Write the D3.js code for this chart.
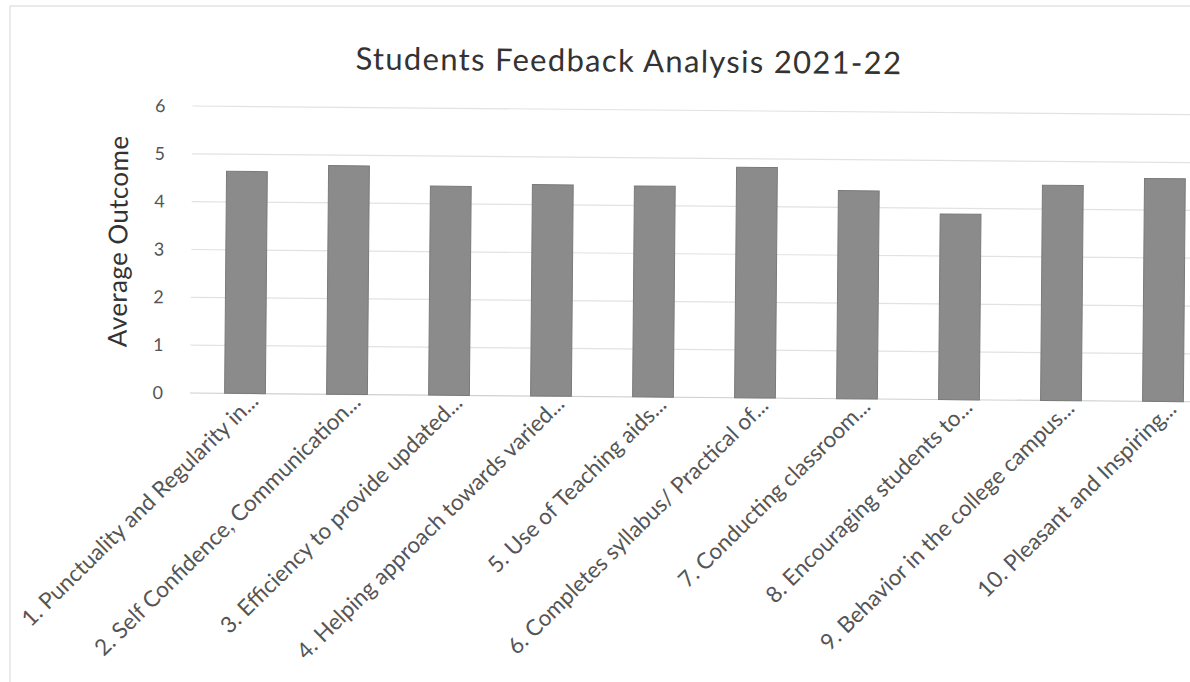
<!DOCTYPE html>
<html>
<head>
<meta charset="utf-8">
<script src="https://cdn.jsdelivr.net/npm/d3@7"></script>
<style>
  html, body { margin: 0; padding: 0; background: #fff; }
  svg { display: block; }
  text { font-family: Lato, "Liberation Sans", sans-serif; }
</style>
</head>
<body>
<svg id="chart" width="1190" height="682"></svg>
<script>
const categories = [
  "1. Punctuality and Regularity in...",
  "2. Self Confidence, Communication...",
  "3. Efficiency to provide updated...",
  "4. Helping approach towards varied...",
  "5. Use of Teaching aids...",
  "6. Completes syllabus/ Practical of...",
  "7. Conducting classroom...",
  "8. Encouraging students to...",
  "9. Behavior in the college campus...",
  "10. Pleasant and Inspiring..."
];
const values = [4.64, 4.78, 4.37, 4.42, 4.41, 4.82, 4.35, 3.88, 4.50, 4.66];
const yTicks = [0, 1, 2, 3, 4, 5, 6];
const titleText = "Students Feedback Analysis 2021-22";
const yTitle = "Average Outcome";

const svg = d3.select("#chart");
const W = 1190, H = 682;

// faint border of the scanned chart area
svg.append("rect").attr("x", 10).attr("y", 6).attr("width", W - 8).attr("height", H + 20)
  .attr("fill", "none").attr("stroke", "#e4e4e4").attr("stroke-width", 1.5);

const root = svg.append("g").attr("transform", "rotate(0.5, 190, 393)");

const x = d3.scaleBand().domain(categories).range([194, 1214]).paddingInner(0.6).paddingOuter(0.3);
const y = d3.scaleLinear().domain([0, 6]).range([393, 106]);

// gridlines
root.append("g").selectAll("line").data(yTicks).join("line")
  .attr("x1", 190).attr("x2", 1230)
  .attr("y1", d => y(d)).attr("y2", d => y(d))
  .attr("stroke", d => d === 0 ? "#d0d0d0" : "#e2e2e2").attr("stroke-width", 1.2);

// y axis tick labels
const yAxis = d3.axisLeft(y).tickValues(yTicks).tickSize(0).tickPadding(0).tickFormat(d3.format("d"));
const ya = root.append("g").attr("transform", "translate(163,0)").call(yAxis);
ya.select(".domain").remove();
ya.selectAll("text").attr("font-size", 18).attr("fill", "#555").attr("font-family", "Lato, sans-serif");

// bars
root.append("g").selectAll("rect").data(values).join("rect")
  .attr("x", (d, i) => x(categories[i]))
  .attr("width", x.bandwidth())
  .attr("y", d => y(d))
  .attr("height", d => y(0) - y(d))
  .attr("fill", "#8b8b8b")
  .attr("stroke", "#7a7a7a").attr("stroke-width", 1);

// x axis labels
const xAxis = d3.axisBottom(x).tickSize(0).tickPadding(0);
const xa = root.append("g").attr("transform", `translate(0, ${y(0)})`).call(xAxis);
xa.select(".domain").remove();
xa.selectAll("text")
  .attr("font-size", 22.5).attr("fill", "#555")
  .attr("text-anchor", "end")
  .attr("dy", null).attr("y", 0)
  .attr("transform", "translate(15,9) rotate(-45)");

// y axis title
root.append("text").attr("transform", "translate(126,242) rotate(-90)")
  .attr("text-anchor", "middle").attr("font-size", 26).attr("letter-spacing", 0.4)
  .attr("fill", "#333").text(yTitle);

// title
root.append("text").attr("x", 626).attr("y", 68).attr("text-anchor", "middle")
  .attr("font-size", 31).attr("letter-spacing", 1.3)
  .attr("fill", "#333").text(titleText);
</script>
</body>
</html>
